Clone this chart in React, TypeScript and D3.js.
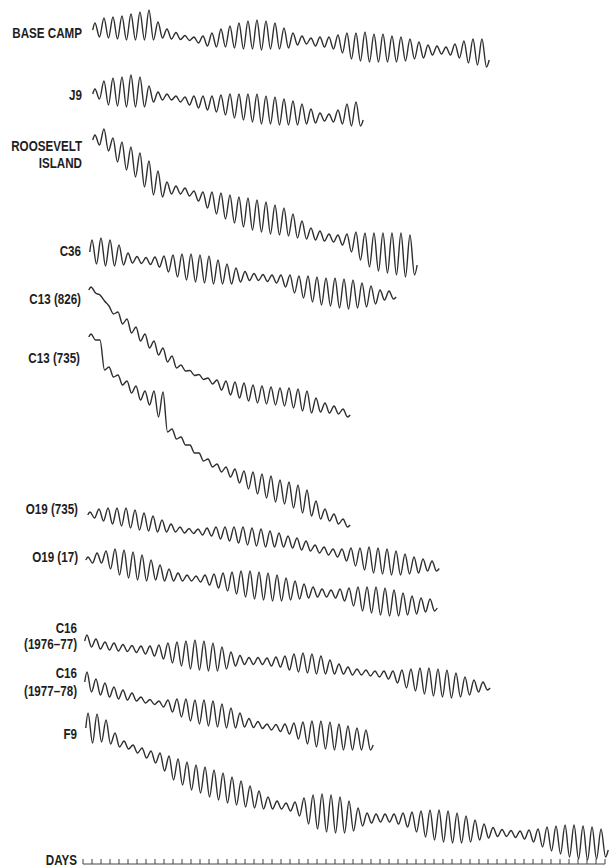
import React from 'react';
import * as d3 from 'd3';

// Tide records, one value per day: mean level (arbitrary units, up = positive,
// relative to the row's baseline) and daily peak-to-trough range.
const baseCampMean = [2, 4, 4, 4, 5, 6, 7, 2, -2, -4, -6, -8, -9, -8, -6, -5, -4, -3, -3, -3, -4, -6, -7, -8, -10, -10, -11, -12, -14, -15, -15, -16, -16, -17, -17, -17, -18, -18, -18, -19, -19, -20, -20, -21];
const baseCampRange = [14, 20, 22, 24, 26, 28, 30, 16, 10, 7, 5, 6, 10, 14, 18, 22, 26, 28, 30, 28, 26, 20, 12, 8, 8, 10, 12, 18, 26, 28, 30, 28, 28, 26, 24, 20, 16, 10, 8, 8, 14, 22, 26, 28];

const j9Mean = [0, 1, 2, 2, 3, 2, 0, -2, -3, -5, -7, -8, -9, -10, -11, -12, -13, -14, -15, -16, -17, -18, -19, -20, -22, -23, -24, -23, -21, -20];
const j9Range = [10, 24, 28, 30, 32, 30, 16, 8, 6, 6, 8, 12, 14, 16, 20, 24, 26, 28, 30, 28, 28, 26, 24, 20, 14, 8, 8, 14, 22, 24];

const rooseveltMean = [5, 5, -5, -11, -17, -25, -33, -39, -43, -45, -47, -51, -55, -58, -61, -64, -67, -69, -71, -73, -75, -77, -81, -85, -89, -91, -93, -95, -98, -101, -105, -107, -108, -109, -110, -110];
const rooseveltRange = [10, 22, 24, 28, 30, 34, 34, 26, 12, 8, 8, 10, 16, 22, 26, 28, 30, 32, 32, 32, 30, 28, 24, 18, 12, 10, 8, 10, 18, 28, 34, 38, 40, 42, 44, 40];

const c36Mean = [-2, -2, -3, -5, -8, -10, -11, -12, -14, -16, -17, -18, -19, -20, -22, -24, -25, -26, -27, -28, -29, -31, -34, -37, -39, -41, -42, -43, -44, -44, -45, -45, -45, -45];
const c36Range = [24, 28, 26, 20, 10, 7, 7, 10, 16, 22, 26, 28, 28, 28, 24, 20, 14, 9, 7, 7, 8, 12, 18, 22, 26, 28, 28, 30, 30, 28, 24, 18, 10, 8];

const c13aMean = [8, 0, -12, -20, -28, -36, -43, -50, -57, -64, -70, -75, -79, -83, -87, -90, -92, -94, -96, -97, -98, -99, -100, -102, -104, -107, -110, -112, -115];
const c13aRange = [6, 6, 8, 12, 14, 14, 14, 14, 14, 12, 6, 5, 5, 6, 10, 14, 16, 18, 18, 18, 18, 18, 20, 22, 22, 14, 10, 8, 8];

const c13bMean = [20, 2, -15, -23, -30, -36, -41, -47, -55, -77, -84, -92, -100, -106, -111, -115, -119, -123, -126, -129, -132, -135, -138, -142, -146, -153, -158, -162, -166];
const c13bRange = [6, 30, 10, 10, 12, 14, 14, 26, 40, 10, 8, 8, 8, 8, 8, 10, 14, 18, 22, 24, 26, 24, 26, 28, 26, 18, 12, 10, 8];

const o19aMean = [-7, -7, -8, -9, -10, -12, -14, -16, -18, -20, -22, -23, -24, -24, -25, -26, -27, -28, -29, -30, -31, -32, -34, -36, -38, -41, -43, -45, -47, -49, -51, -52, -53, -54, -55, -56, -57, -57, -58];
const o19aRange = [6, 12, 16, 18, 20, 20, 18, 16, 12, 8, 6, 5, 6, 8, 12, 14, 16, 18, 18, 18, 16, 14, 12, 12, 10, 8, 8, 8, 12, 18, 22, 26, 26, 26, 24, 20, 16, 12, 10];

const o19bMean = [-4, -2, -4, -6, -8, -10, -12, -14, -17, -19, -21, -22, -23, -24, -25, -26, -27, -28, -29, -30, -31, -32, -33, -34, -35, -36, -37, -38, -39, -41, -43, -44, -45, -46, -47, -48, -49, -49, -49];
const o19bRange = [6, 10, 18, 26, 28, 28, 26, 20, 16, 12, 8, 6, 6, 10, 14, 18, 22, 26, 28, 28, 28, 26, 22, 18, 14, 10, 8, 8, 12, 18, 24, 26, 28, 28, 26, 22, 18, 14, 12];

const c16aMean = [2, -1, -3, -4, -5, -6, -7, -8, -9, -10, -11, -12, -12, -13, -14, -15, -16, -17, -18, -18, -19, -19, -20, -20, -20, -21, -22, -24, -26, -28, -29, -30, -31, -32, -34, -36, -37, -38, -39, -40, -41, -42, -43, -43, -43];
const c16aRange = [12, 10, 8, 8, 7, 7, 8, 10, 14, 20, 24, 28, 30, 30, 28, 22, 14, 9, 7, 7, 8, 10, 14, 18, 20, 20, 18, 14, 10, 8, 6, 6, 6, 8, 12, 18, 22, 26, 28, 28, 28, 24, 18, 12, 8];

const c16bMean = [8, 3, 0, -3, -5, -7, -10, -12, -14, -16, -18, -20, -22, -23, -24, -26, -28, -30, -33, -35, -37, -38, -39, -41, -43, -44, -45, -46, -47, -48, -49, -50];
const c16bRange = [20, 16, 14, 12, 10, 8, 6, 5, 6, 12, 18, 22, 24, 26, 26, 24, 20, 14, 9, 7, 6, 7, 10, 16, 22, 26, 28, 28, 26, 24, 22, 20];

const f9Mean = [5, 5, 1, -7, -12, -16, -20, -24, -29, -35, -39, -43, -46, -49, -52, -55, -58, -61, -64, -67, -70, -72, -74, -76, -78, -79, -80, -81, -82, -83, -84, -85, -85, -85, -86, -87, -89, -91, -92, -93, -94, -95, -96, -97, -98, -99, -100, -101, -102, -103, -105, -106, -107, -108, -109, -110, -110, -110];
const f9Range = [30, 28, 24, 14, 8, 8, 10, 12, 18, 24, 26, 28, 28, 30, 30, 30, 28, 26, 22, 18, 12, 8, 8, 14, 26, 34, 38, 38, 36, 30, 18, 10, 8, 8, 10, 14, 20, 26, 30, 32, 32, 30, 26, 20, 14, 9, 7, 7, 8, 12, 18, 24, 28, 32, 34, 34, 32, 28];

const stationLabels = [
  ['BASE CAMP'], ['J9'], ['ROOSEVELT', 'ISLAND'], ['C36'], ['C13 (826)'], ['C13 (735)'],
  ['O19 (735)'], ['O19 (17)'], ['C16', '(1976\u201377)'], ['C16', '(1977\u201378)'], ['F9'],
];
const startDays = [1.33, 1.33, 1.33, 1.0, 0.89, 0.89, 0.78, 0.56, 0.44, 0.44, 0.56];
const totalDays = 58;

// layout (page px)
const W = 615;
const H = 868;
const baseY = [32, 94, 145, 250, 298, 357, 508, 556, 643, 690, 733];
const labelY = [[32], [94], [145, 162], [250], [298], [357], [508], [556], [627, 643], [672, 690], [733]];
const labelRight = [82, 82, 82, 81, 81, 80, 78, 78, 77, 77, 77];
const axisY = 864;

const series = [
  [baseCampMean, baseCampRange], [j9Mean, j9Range], [rooseveltMean, rooseveltRange],
  [c36Mean, c36Range], [c13aMean, c13aRange], [c13bMean, c13bRange],
  [o19aMean, o19aRange], [o19bMean, o19bRange], [c16aMean, c16aRange],
  [c16bMean, c16bRange], [f9Mean, f9Range],
];

const x = d3.scaleLinear().domain([0, totalDays]).range([83, 605]);

const labelFont = "'Liberation Sans', Arial, sans-serif";

function Label({ x0, y0, text }: { x0: number; y0: number; text: string }) {
  return (
    <text transform={`translate(${x0},${y0}) scale(0.75,1)`} dy="0.36em" textAnchor="end"
      fontFamily={labelFont} fontWeight="bold" fontSize={15.5} fill="#1e1e1e">{text}</text>
  );
}

export default function App() {
  const traces = series.map(([mean, range], i) => {
    const y = d3.scaleLinear().domain([0, 1]).range([baseY[i], baseY[i] - 1]);
    const n = Math.min(mean.length, range.length);
    const s = startDays[i];
    const pts: [number, number][] = [[s - 0.25, mean[0]]];
    for (let k = 0; k < n; k++) {
      pts.push([s + k, mean[k] + range[k] / 2]);
      pts.push([s + k + 0.5, mean[k] - range[k] / 2]);
    }
    pts.push([s + n - 0.2, mean[n - 1] - range[n - 1] / 4]);
    const line = d3.line<[number, number]>()
      .x(d => x(d[0]))
      .y(d => y(d[1]))
      .curve(d3.curveMonotoneX);
    return line(pts) || '';
  });

  const ticks = d3.range(0, totalDays + 1);

  return (
    <svg width={W} height={H} style={{ position: 'absolute', left: 0, top: 0, background: '#fff' }}>
      {traces.map((d, i) => (
        <path key={i} d={d} fill="none" stroke="#2e2e2e" strokeWidth={1.4} strokeLinejoin="round" />
      ))}
      {stationLabels.map((lines, i) => lines.map((t, j) => (
        <Label key={i + '-' + j} x0={labelRight[i]} y0={labelY[i][j]} text={t} />
      )))}
      <Label x0={77} y0={859} text="DAYS" />
      <line x1={x(0)} x2={x(totalDays)} y1={axisY} y2={axisY} stroke="#444" strokeWidth={1} />
      {ticks.map(t => (
        <line key={t} x1={x(t)} x2={x(t)} y1={axisY} y2={axisY - 5} stroke="#444" strokeWidth={1} />
      ))}
    </svg>
  );
}
